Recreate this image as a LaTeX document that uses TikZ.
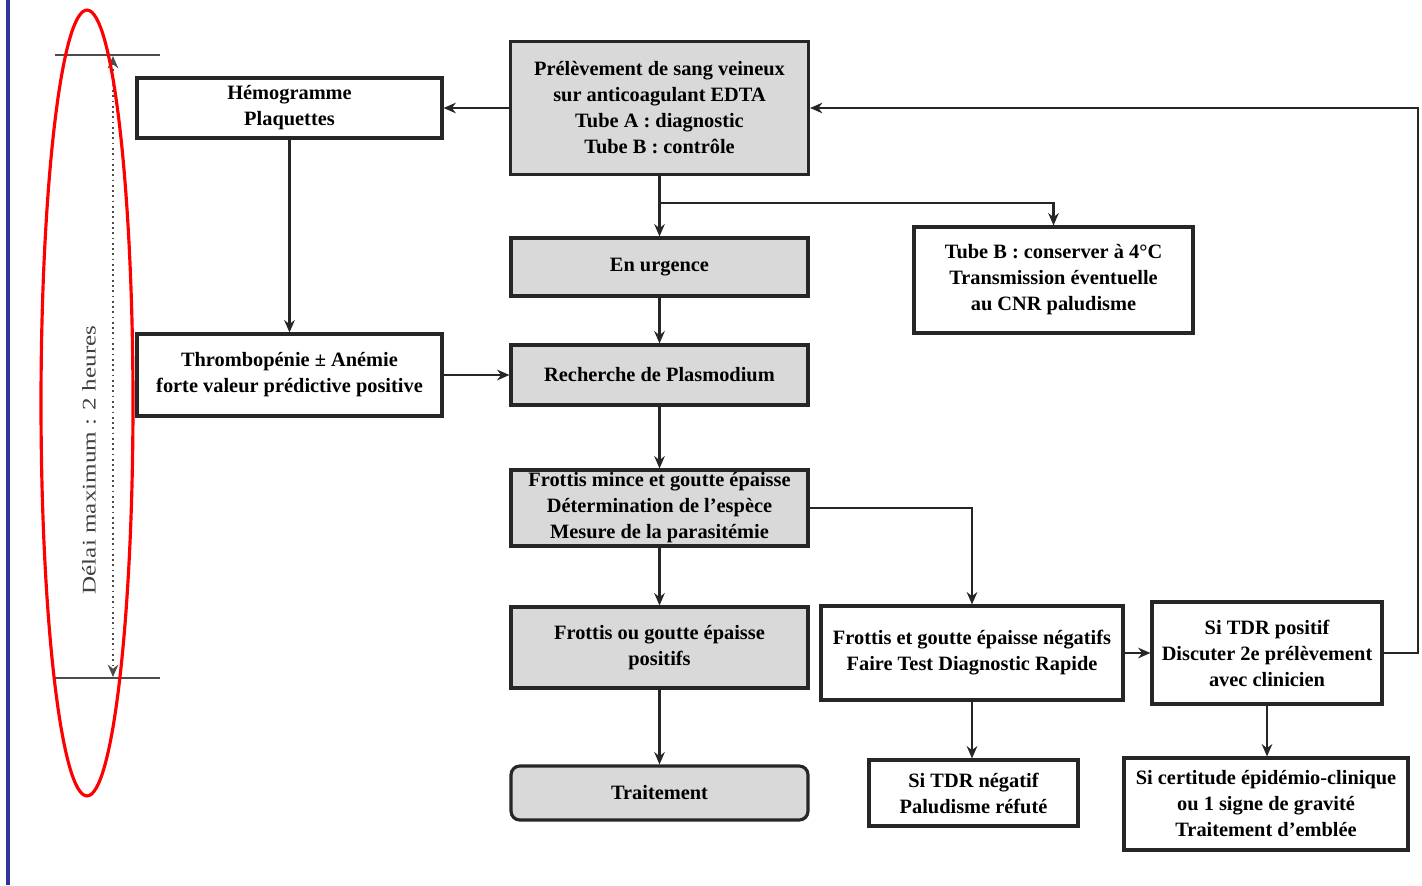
\documentclass[tikz,border=0pt]{standalone}
\usepackage{fontspec}
\setmainfont{Liberation Serif}
\usetikzlibrary{arrows.meta}
\tikzset{
  box/.style={draw=black!85, line width=1.8pt, inner sep=0pt, align=center,
    font=\fontsize{11.6}{14.8}\selectfont\bfseries},
  gbox/.style={box, fill=black!15},
  arr/.style={line width=1.6pt, draw=black!85, -{Stealth[length=7pt,width=6pt]}},
}
\begin{document}
\begin{tikzpicture}[x=0.02cm, y=-0.02cm]
\useasboundingbox (0,0) rectangle (1422,885);
\fill[white] (0,0) rectangle (1422,885);
% left blue rule
\draw[color={rgb,255:red,51;green,51;blue,153}, line width=1.8pt] (8,0) -- (8,885);

% nodes
\node[gbox, minimum width=5.96cm, minimum height=2.66cm] (pre) at (659.5,108)
  {Prélèvement de sang veineux\\sur anticoagulant EDTA\\Tube A : diagnostic\\Tube B : contrôle};
\node[box, minimum width=6.10cm, minimum height=1.2cm] (hemo) at (289.5,108)
  {Hémogramme\\Plaquettes};
\node[gbox, minimum width=5.94cm, minimum height=1.16cm] (urg) at (659.5,267)
  {En urgence};
\node[box, minimum width=5.58cm, minimum height=2.12cm] (tubeb) at (1053.5,280)
  {Tube B : conserver à 4°C\\Transmission éventuelle\\au CNR paludisme};
\node[box, minimum width=6.10cm, minimum height=1.64cm] (thr) at (289.5,375)
  {Thrombopénie ± Anémie\\forte valeur prédictive positive};
\node[gbox, minimum width=5.94cm, minimum height=1.2cm] (rech) at (659.5,375)
  {Recherche de Plasmodium};
\node[gbox, minimum width=5.94cm, minimum height=1.52cm] (fm) at (659.5,508)
  {Frottis mince et goutte épaisse\\Détermination de l'espèce\\Mesure de la parasitémie};
\node[gbox, minimum width=5.94cm, minimum height=1.62cm] (fpos) at (659.5,647.5)
  {Frottis ou goutte épaisse\\positifs};
\node[box, minimum width=6.04cm, minimum height=1.88cm] (fneg) at (972,653)
  {Frottis et goutte épaisse négatifs\\Faire Test Diagnostic Rapide};
\node[box, minimum width=4.6cm, minimum height=2.04cm] (tpos) at (1267,653)
  {Si TDR positif\\Discuter 2e prélèvement\\avec clinicien};
\node[gbox, rounded corners=5pt, minimum width=5.94cm, minimum height=1.08cm] (trait) at (659.5,793)
  {Traitement};
\node[box, minimum width=4.18cm, minimum height=1.32cm] (tneg) at (973.5,793)
  {Si TDR négatif\\Paludisme réfuté};
\node[box, minimum width=5.68cm, minimum height=1.84cm] (cert) at (1266,804)
  {Si certitude épidémio-clinique\\ou 1 signe de gravité\\Traitement d'emblée};

% connectors
\coordinate (br) at (659.5,203);
\coordinate (ret) at (1418,653);
\draw[arr] (pre.west) -- (hemo.east);
\draw[arr] (pre.south) -- (urg.north);
\draw[arr] (br) -| (tubeb.north);
\draw[arr] (hemo.south) -- (thr.north);
\draw[arr] (thr.east) -- (rech.west);
\draw[arr] (urg.south) -- (rech.north);
\draw[arr] (rech.south) -- (fm.north);
\draw[arr] (fm.east) -| (fneg.north);
\draw[arr] (fm.south) -- (fpos.north);
\draw[arr] (fpos.south) -- (trait.north);
\draw[arr] (fneg.east) -- (tpos.west);
\draw[arr] (fneg.south) -- (fneg.south |- tneg.north);
\draw[arr] (tpos.south) -- (tpos.south |- cert.north);
\draw[arr] (tpos.east) -- (ret) |- (pre.east);

% time scale on the left
\draw[line width=1.2pt, black!70] (55,55) -- (160,55);
\draw[line width=1.2pt, black!70] (55,678) -- (160,678);
\draw[line width=1pt, black!70, dotted, {Stealth[length=7pt,width=6pt]}-{Stealth[length=7pt,width=6pt]}] (113,56) -- (113,677);
\node[rotate=90, text=black!75, font=\fontsize{11}{13}\selectfont] (delai) at (89,460)
  {\scalebox{1.3}[1]{Délai maximum : 2 heures}};
% red ellipse
\draw[red, line width=1.8pt] (87,403) ellipse [x radius=0.92cm, y radius=7.86cm];
\end{tikzpicture}
\end{document}
